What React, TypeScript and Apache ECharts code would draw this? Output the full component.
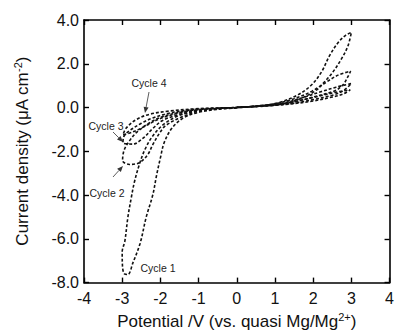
import React, { useEffect, useRef } from "react";
import * as echarts from "echarts";

// Cyclic voltammogram data: [potential V, current density µA cm^-2]
const cycle1: number[][] = [
  [0, -0.02], [-0.5, -0.08], [-1, -0.22], [-1.4, -0.48], [-1.7, -0.95], [-1.9, -1.6],
  [-2.0, -2.3], [-2.1, -3.1], [-2.2, -4.0], [-2.37, -5.0], [-2.53, -6.2], [-2.72, -7.1],
  [-2.85, -7.63], [-2.94, -7.6], [-2.99, -7.3], [-3.0, -6.6], [-2.93, -6.1], [-2.85, -5.0],
  [-2.76, -4.1], [-2.68, -3.4], [-2.55, -2.6], [-2.4, -1.9], [-2.2, -1.3], [-1.9, -0.75],
  [-1.5, -0.36], [-1, -0.14], [-0.5, -0.05], [0, 0], [0.5, 0.05], [1, 0.12], [1.5, 0.3],
  [2.04, 0.74], [2.3, 1.18], [2.52, 1.63], [2.74, 2.22], [2.91, 2.81], [3.0, 3.43],
  [2.85, 3.3], [2.65, 2.96], [2.43, 2.37], [2.22, 1.63], [1.96, 1.04], [1.61, 0.59],
  [1.09, 0.22], [0.5, 0.07], [0, 0.01],
];
const cycle2: number[][] = [
  [0, -0.01], [-0.5, -0.06], [-1, -0.18], [-1.4, -0.4], [-1.85, -0.81], [-2.03, -1.19],
  [-2.2, -1.7], [-2.33, -2.15], [-2.55, -2.52], [-2.81, -2.6], [-2.99, -2.42], [-2.95, -1.95],
  [-2.8, -1.5], [-2.6, -1.1], [-2.3, -0.72], [-2.0, -0.45], [-1.5, -0.22], [-1, -0.1],
  [-0.5, -0.04], [0, 0], [0.5, 0.05], [1, 0.12], [1.5, 0.25], [2.0, 0.48], [2.56, 0.76],
  [2.78, 1.04], [2.91, 1.41], [2.98, 1.66], [2.65, 1.48], [2.3, 1.11], [1.96, 0.74],
  [1.5, 0.4], [1, 0.17], [0.5, 0.06], [0, 0.01],
];
const cycle3: number[][] = [
  [0, -0.01], [-0.5, -0.05], [-1, -0.15], [-1.5, -0.32], [-1.94, -0.59], [-2.2, -0.96],
  [-2.46, -1.41], [-2.72, -1.67], [-2.98, -1.6], [-2.95, -1.3], [-2.8, -1.05], [-2.5, -0.72],
  [-2.2, -0.48], [-1.8, -0.27], [-1.3, -0.12], [-1, -0.07], [-0.5, -0.03], [0, 0],
  [0.5, 0.05], [1, 0.11], [1.5, 0.2], [2, 0.36], [2.5, 0.56], [2.8, 0.78], [3.0, 1.1],
  [2.6, 0.93], [2.2, 0.72], [1.7, 0.44], [1.2, 0.2], [0.5, 0.06], [0, 0.01],
];
const cycle4: number[][] = [
  [0, -0.01], [-0.5, -0.04], [-1, -0.12], [-1.5, -0.25], [-2.0, -0.5], [-2.4, -0.85],
  [-2.7, -1.1], [-2.98, -1.25], [-2.9, -0.95], [-2.63, -0.55], [-2.29, -0.31], [-1.77, -0.16],
  [-1, -0.05], [-0.5, -0.02], [0, 0], [0.5, 0.04], [1, 0.1], [1.5, 0.18], [2, 0.3],
  [2.5, 0.48], [2.8, 0.63], [2.97, 0.81], [2.6, 0.7], [2.2, 0.54], [1.7, 0.34], [1.2, 0.17],
  [0.5, 0.05], [0, 0.01],
];
const cycles = [cycle1, cycle2, cycle3, cycle4];

const xTicks = { min: -4, max: 4, interval: 1 };
const yTicks = { min: -8, max: 4, interval: 2 };

const FONT = "Liberation Sans, Arial, Helvetica, sans-serif";

function arrow(x1: number, y1: number, x2: number, y2: number) {
  const ang = Math.atan2(y2 - y1, x2 - x1);
  const len = 6;
  const w = 2.5;
  const bx = x2 - len * Math.cos(ang);
  const by = y2 - len * Math.sin(ang);
  const px = -Math.sin(ang) * w;
  const py = Math.cos(ang) * w;
  return [
    { type: "line", shape: { x1, y1, x2: bx, y2: by }, style: { stroke: "#333", lineWidth: 0.8 } },
    {
      type: "polygon",
      shape: { points: [[x2, y2], [bx + px, by + py], [bx - px, by - py]] },
      style: { fill: "#333" },
    },
  ];
}

export default function App() {
  const ref = useRef<HTMLDivElement>(null);
  useEffect(() => {
    if (!ref.current) return;
    const chart = echarts.init(ref.current, null, { renderer: "svg" });
    const axisCommon = {
      axisLine: { show: true, onZero: false, lineStyle: { color: "#000", width: 1.6 } },
      axisTick: { show: true, inside: true, length: 5, lineStyle: { color: "#000", width: 1.4 } },
      splitLine: { show: false },
    };
    const labelFont = { fontFamily: FONT, fontSize: 16, color: "#111" };
    const texts = [
      { x: 149, y: 83, t: "Cycle 4" },
      { x: 106, y: 126, t: "Cycle 3" },
      { x: 107, y: 193, t: "Cycle 2" },
      { x: 158, y: 268, t: "Cycle 1" },
    ];
    chart.setOption({
      animation: false,
      grid: { left: 84, right: 5, top: 20, bottom: 45, containLabel: false },
      xAxis: [
        {
          type: "value",
          ...xTicks,
          ...axisCommon,
          axisLabel: { ...labelFont, margin: 8 },
          name: "Potential /V (vs. quasi Mg/Mg{sup|2+})",
          nameLocation: "middle",
          nameGap: 23,
          nameTextStyle: {
            fontFamily: FONT,
            fontSize: 17,
            color: "#111",
            verticalAlign: "top",
            rich: { sup: { fontFamily: FONT, fontSize: 11, color: "#111", padding: [0, 0, 9, 0] } },
          },
        },
        {
          type: "value",
          position: "top",
          ...xTicks,
          ...axisCommon,
          axisLabel: { show: false },
        },
      ],
      yAxis: [
        {
          type: "value",
          ...yTicks,
          ...axisCommon,
          axisLabel: { ...labelFont, margin: 5, formatter: (v: number) => v.toFixed(1) },
          name: "Current density (\u03bcA cm{sup|-2})",
          nameLocation: "middle",
          nameGap: 52,
          nameRotate: 90,
          nameTextStyle: {
            fontFamily: FONT,
            fontSize: 17,
            color: "#111",
            rich: { sup: { fontFamily: FONT, fontSize: 11, color: "#111", padding: [0, 0, 9, 0] } },
          },
        },
        {
          type: "value",
          position: "right",
          ...yTicks,
          ...axisCommon,
          axisLabel: { show: false },
        },
      ],
      series: cycles.map((c, i) => ({
        type: "line",
        name: "Cycle " + (i + 1),
        data: c,
        smooth: 0.35,
        showSymbol: false,
        symbol: "none",
        lineStyle: { color: "#111", width: 1.6, type: [3, 2] },
      })),
      graphic: [
        ...texts.map((t) => ({
          type: "text",
          x: t.x,
          y: t.y,
          style: {
            text: t.t,
            fontFamily: FONT,
            fontSize: 10.5,
            fill: "#222",
            align: "center",
            verticalAlign: "middle",
          },
        })),
        ...arrow(149, 92, 145, 113),
        ...arrow(113, 132, 123, 142),
        ...arrow(113, 177, 123, 166),
      ],
    });
    return () => chart.dispose();
  }, []);
  return (
    <div
      ref={ref}
      style={{ position: "fixed", left: 0, top: 0, width: 397, height: 335, background: "#fff" }}
    />
  );
}
